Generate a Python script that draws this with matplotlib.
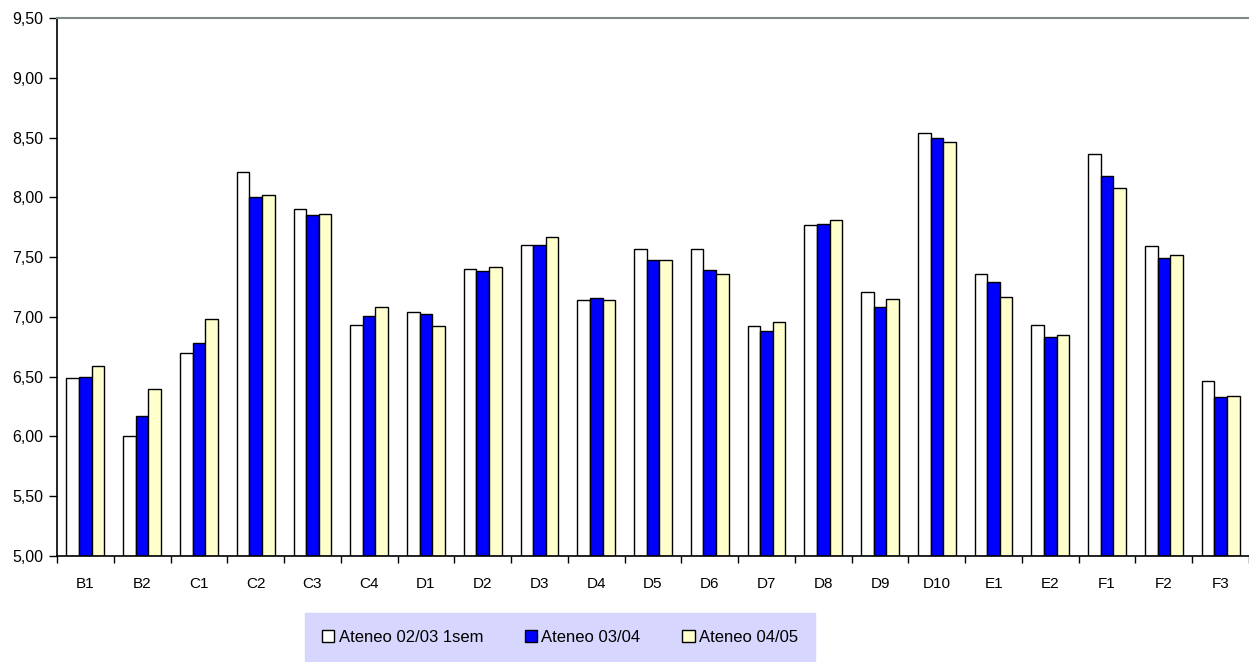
import matplotlib
matplotlib.use("Agg")
import matplotlib.pyplot as plt
import numpy as np
from matplotlib.patches import Patch

plt.rcParams['font.family'] = ['Liberation Sans', 'DejaVu Sans']

categories = ["B1", "B2", "C1", "C2", "C3", "C4", "D1", "D2", "D3", "D4", "D5",
              "D6", "D7", "D8", "D9", "D10", "E1", "E2", "F1", "F2", "F3"]
series_names = ["Ateneo 02/03 1sem", "Ateneo 03/04", "Ateneo 04/05"]
ateneo_0203 = [6.49, 6.00, 6.70, 8.21, 7.90, 6.93, 7.04, 7.40, 7.60, 7.14, 7.57,
               7.57, 6.92, 7.77, 7.21, 8.54, 7.36, 6.93, 8.36, 7.59, 6.46]
ateneo_0304 = [6.50, 6.17, 6.78, 8.00, 7.85, 7.01, 7.02, 7.38, 7.60, 7.16, 7.48,
               7.39, 6.88, 7.78, 7.08, 8.50, 7.29, 6.83, 8.18, 7.49, 6.33]
ateneo_0405 = [6.59, 6.40, 6.98, 8.02, 7.86, 7.08, 6.92, 7.42, 7.67, 7.14, 7.48,
               7.36, 6.96, 7.81, 7.15, 8.46, 7.17, 6.85, 8.08, 7.52, 6.34]
y_ticks = [5.0, 5.5, 6.0, 6.5, 7.0, 7.5, 8.0, 8.5, 9.0, 9.5]

colors = ["#FFFFFF", "#0000FF", "#FFFFCC"]
series = [ateneo_0203, ateneo_0304, ateneo_0405]

fig = plt.figure(figsize=(12.49, 6.62), dpi=100)
ax = fig.add_axes([57 / 1249, 1 - 556 / 662, 1 - 57 / 1249, (556 - 18) / 662])

x = np.arange(len(categories))
w = 0.222
for i, (vals, c) in enumerate(zip(series, colors)):
    ax.bar(x + (i - 1) * w, np.array(vals) - 5.0, width=w, bottom=5.0,
           color=c, edgecolor="black", linewidth=1.0, zorder=2)

ax.set_xlim(-0.5, len(categories) - 0.5)
ax.set_ylim(5.0, 9.5)
ax.set_yticks(y_ticks)
ax.set_yticklabels([f"{v:.2f}".replace(".", ",") for v in y_ticks], fontsize=11.5)

# category labels centred, tick marks on the boundaries
ax.set_xticks(np.arange(len(categories) + 1) - 0.5)
ax.set_xticklabels([])
ax.set_xticks(x, minor=True)
ax.set_xticklabels(categories, minor=True, fontsize=11)
ax.tick_params(axis="x", which="minor", length=0, pad=15)
ax.tick_params(axis="x", which="major", length=5, width=1, direction="out")
ax.tick_params(axis="y", length=6, width=1, direction="out", pad=4)

ax.spines["right"].set_visible(False)
ax.spines["top"].set_color("#7F8A8A")
ax.spines["top"].set_linewidth(1.5)
ax.spines["left"].set_linewidth(1.2)
ax.spines["bottom"].set_linewidth(1.2)

handles = [Patch(facecolor=c, edgecolor="black", linewidth=1.0) for c in colors]
leg = fig.legend(handles, series_names, loc="center", ncol=3,
                 bbox_to_anchor=(560 / 1249, 1 - 637 / 662), fontsize=12,
                 frameon=True, fancybox=False, facecolor="#D6D6FF",
                 edgecolor="#D6D6FF", framealpha=1.0, handlelength=0.75,
                 handleheight=0.75, handletextpad=0.25, columnspacing=2.5,
                 borderpad=1.0, borderaxespad=0)

fig.savefig("out.png", dpi=100)
